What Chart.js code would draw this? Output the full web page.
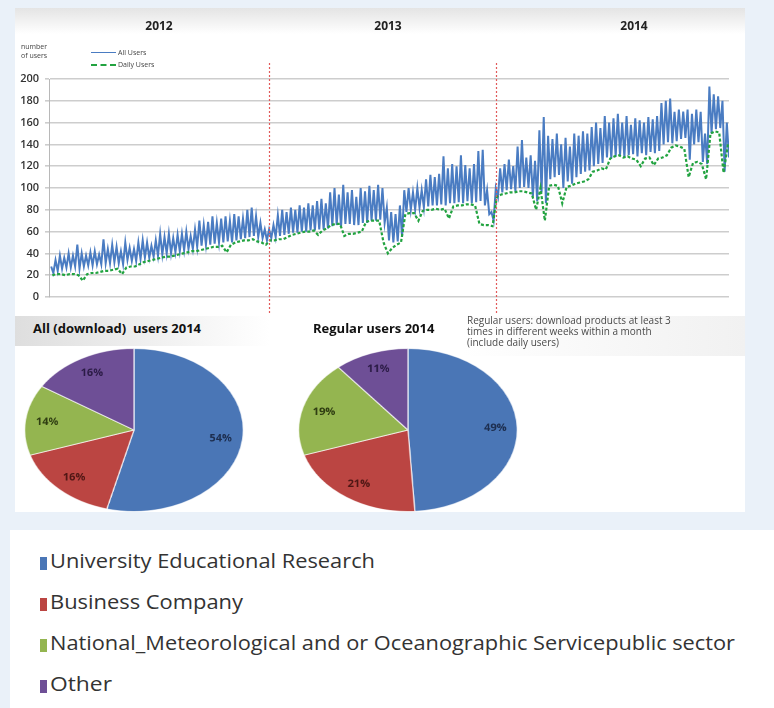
<!DOCTYPE html>
<html><head><meta charset="utf-8">
<script src="https://cdn.jsdelivr.net/npm/chart.js@4.4.1/dist/chart.umd.min.js"></script>
<style>
html,body{margin:0;padding:0;}
body{width:774px;height:708px;background:#eaf1f9;position:relative;overflow:hidden;font-family:'Open Sans',sans-serif;}
.abs{position:absolute;}
#topPanel{left:15px;top:8px;width:730px;height:504px;background:#fff;}
#topShade{left:15px;top:8px;width:730px;height:26px;background:linear-gradient(to bottom,#e4e4e4,rgba(255,255,255,0));}
#pieShade1{left:15px;top:316px;width:255px;height:30px;background:linear-gradient(to right,#dedede,rgba(255,255,255,0));}
#noteShade{left:462px;top:316px;width:283px;height:40px;background:linear-gradient(to right,rgba(255,255,255,0),#f1f1f1);}
#lineWrap{left:15px;top:8px;width:730px;height:310px;}
.year{font-weight:700;font-size:12px;color:#222;transform:translateX(-50%);top:17px;}
.small{font-size:7px;color:#444;line-height:9px;}
.pieWrap{top:348px;width:164px;height:164px;transform:scaleX(1.341);transform-origin:0 0;}
.pieTitle{font-weight:700;font-size:13px;color:#111;top:319px;white-space:pre;}
#note{left:467px;top:315px;font-size:10px;line-height:11px;color:#4a4a4a;}
#legendPanel{left:10px;top:530px;width:764px;height:178px;background:#fff;}
.lgRow{left:40px;height:20px;}
.lgBox{position:absolute;left:0;top:4px;width:7px;height:13px;}
.lgText{position:absolute;left:10px;top:-3px;font-size:20px;line-height:22px;color:#333;white-space:nowrap;transform-origin:0 50%;display:inline-block;}
</style></head>
<body>
<div id="topPanel" class="abs"></div>
<div id="topShade" class="abs"></div>
<div id="pieShade1" class="abs"></div>
<div id="noteShade" class="abs"></div>
<div id="lineWrap" class="abs"><canvas id="lineChart"></canvas></div>

<div class="abs year" style="left:159px">2012</div>
<div class="abs year" style="left:388px">2013</div>
<div class="abs year" style="left:634px">2014</div>
<div class="abs small" style="left:21px;top:42px">number<br>of users</div>
<div class="abs" style="left:91px;top:52px;width:25px;border-top:1.5px solid #4a7cc2"></div>
<div class="abs small" style="left:118px;top:48px">All Users</div>
<div class="abs" style="left:91px;top:64px;width:25px;border-top:2px dashed #22a340"></div>
<div class="abs small" style="left:118px;top:60px">Daily Users</div>

<div class="abs pieTitle" style="left:33px">All (download)  users 2014</div>
<div class="abs pieTitle" style="left:313px">Regular users 2014</div>
<div id="note" class="abs">Regular users: download products at least 3<br>times in different weeks within a month<br>(include daily users)</div>
<div class="abs pieWrap" style="left:24px"><canvas id="pieAll"></canvas></div>
<div class="abs pieWrap" style="left:298px"><canvas id="pieRegular"></canvas></div>

<div id="legendPanel" class="abs"></div>
<div id="legend"></div>

<script>
// ---------- Line chart data (weekly: weekday high / weekend low of All Users, and Daily Users) ----------
const firstWeek2012 = 2, firstWeek2013 = 52, firstWeek2014 = 104;
const yearBoundaryWeeks = [52, 104];
const yearLabels = ['2012', '2013', '2014'];

const allHigh2012 = [28,34,38,36,40,38,48,40,38,41,42,39,53,44,48,46,42,50,45,44,50,52,50,47,52,58,55,58,54,57,58,60,56,62,70,66,69,74,68,72,74,70,76,74,72,80,82,74,68,62];
const allLow2012  = [22,24,26,27,27,28,26,28,29,29,30,30,31,31,32,31,30,34,33,33,35,36,36,37,38,39,40,40,41,42,43,44,44,46,47,48,48,49,50,50,51,50,52,53,54,55,56,55,54,52];
const daily2012   = [20,21,21,20,21,21,20,15,21,22,22,23,24,24,25,26,21,27,28,28,30,32,33,34,35,36,37,37,38,39,40,41,42,42,43,44,45,46,46,47,41,48,50,51,52,52,53,51,50,48];

const allHigh2013 = [62,66,75,80,78,82,80,84,82,86,84,88,90,86,96,100,94,103,96,98,92,100,97,102,98,103,100,82,78,76,84,98,100,96,100,98,108,112,110,113,129,118,122,120,130,121,118,122,134,135,98,78];
const allLow2013  = [54,55,56,57,58,59,59,60,60,61,61,62,62,63,65,66,64,67,67,66,66,68,68,70,70,71,68,52,50,51,55,78,80,80,82,82,83,84,84,85,84,86,86,87,86,88,86,87,88,84,76,70];
const daily2013   = [52,52,53,53,55,57,58,59,60,60,61,57,61,63,66,67,67,56,58,58,59,60,69,70,70,70,50,40,45,48,50,76,77,77,70,79,80,80,81,80,81,72,83,84,84,85,85,84,67,66,66,65];

const allHigh2014 = [100,118,122,126,120,138,144,128,130,125,153,165,148,145,150,140,146,138,150,148,152,150,156,160,155,166,160,164,168,160,166,158,164,162,160,165,163,166,178,180,182,170,172,170,172,168,172,170,150,193,186,184,180,160];
const allLow2014  = [92,96,98,99,97,100,101,100,92,88,96,86,108,110,112,100,106,104,110,113,115,116,120,122,123,128,127,129,130,128,130,131,129,132,130,133,132,134,140,142,141,143,145,146,126,140,142,124,122,150,154,155,115,128];
const daily2014   = [92,94,95,96,96,97,97,96,95,80,100,70,102,103,102,86,101,102,104,105,106,108,115,116,118,117,127,129,130,128,129,127,126,120,127,128,121,127,128,130,137,139,138,136,110,123,124,122,108,150,152,151,114,140];

const yTicks = [0,20,40,60,80,100,120,140,160,180,200];

// ---------- Pie data ----------
const categories = ['University Educational Research','Business Company','National_Meteorological and or Oceanographic Servicepublic sector','Other'];
const allUsers2014 = [54,16,14,16];
const regularUsers2014 = [49,21,19,11];
const sliceColors = ['#4a76b6','#bb4542','#94b550','#6e4f96'];
const labelColors = ['#1d2e4f','#4e1614','#2f3d12','#2b1b45'];

function buildAll(first, highs, lows){
  const pts=[];
  highs.forEach((h,i)=>{ pts.push({x:first+i,y:h}); pts.push({x:first+i+0.5,y:lows[i]}); });
  return pts;
}
function buildDaily(first, vals){ return vals.map((v,i)=>({x:first+i+0.25,y:v})); }

const allPts = [].concat(buildAll(firstWeek2012,allHigh2012,allLow2012), buildAll(firstWeek2013,allHigh2013,allLow2013), buildAll(firstWeek2014,allHigh2014,allLow2014));
const dailyPts = [].concat(buildDaily(firstWeek2012,daily2012), buildDaily(firstWeek2013,daily2013), buildDaily(firstWeek2014,daily2014));

const dividerPlugin = {
  id:'dividers',
  afterDatasetsDraw(chart){
    const {ctx, chartArea, scales} = chart;
    ctx.save();
    ctx.strokeStyle = '#e25a5a'; ctx.lineWidth = 1.2; ctx.setLineDash([2,2]);
    yearBoundaryWeeks.forEach(w=>{
      const x = Math.round(scales.x.getPixelForValue(w))+0.5;
      ctx.beginPath(); ctx.moveTo(x, chartArea.top-16); ctx.lineTo(x, chartArea.bottom+18); ctx.stroke();
    });
    ctx.restore();
  }
};

new Chart(document.getElementById('lineChart'), {
  type:'line',
  data:{ datasets:[
    {label:'Daily Users', data:dailyPts, borderColor:'#22a340', borderWidth:2.2, borderDash:[3,2], pointRadius:0, tension:0, order:0},
    {label:'All Users', data:allPts, borderColor:'#4a7cc2', borderWidth:2, pointRadius:0, tension:0, order:1}
  ]},
  options:{
    responsive:true, maintainAspectRatio:false, animation:false,
    layout:{padding:{top:71,right:16,bottom:21,left:0}},
    plugins:{legend:{display:false}, tooltip:{enabled:false}},
    scales:{
      x:{type:'linear', min:1.5, max:157.5, display:false},
      y:{min:0, max:200,
        afterBuildTicks(s){ s.ticks = yTicks.map(v=>({value:v})); },
        afterFit(s){ s.width = 34; },
        grid:{color:'#cdcdcd', lineWidth:1.6, tickLength:4},
        border:{color:'#b8b8b8', width:1},
        ticks:{padding:6, color:'#333', font:{family:'Open Sans', size:11, weight:'600'}}
      }
    }
  },
  plugins:[dividerPlugin]
});

const pieLabelPlugin = {
  id:'pieLabels',
  afterDatasetsDraw(chart, args, opts){
    const ctx = chart.ctx;
    const meta = chart.getDatasetMeta(0);
    const data = chart.data.datasets[0].data;
    meta.data.forEach((arc,i)=>{
      const p = arc.getProps(['x','y','startAngle','endAngle','outerRadius'], true);
      const mid = (p.startAngle+p.endAngle)/2;
      const r = p.outerRadius*opts.radiusFactor;
      ctx.save();
      ctx.translate(p.x+Math.cos(mid)*r, p.y+Math.sin(mid)*r);
      ctx.scale(1/opts.stretch, 1);
      ctx.font = 'bold 11px "Open Sans"';
      ctx.fillStyle = labelColors[i];
      ctx.textAlign='center'; ctx.textBaseline='middle';
      ctx.fillText(data[i]+'%', 0, 0);
      ctx.restore();
    });
  }
};

function makePie(id, values){
  new Chart(document.getElementById(id), {
    type:'pie',
    data:{labels:categories, datasets:[{data:values, backgroundColor:sliceColors, borderColor:'rgba(255,255,255,0.7)', borderWidth:1}]},
    options:{responsive:true, maintainAspectRatio:false, animation:false, devicePixelRatio:2,
      layout:{padding:0},
      plugins:{legend:{display:false}, tooltip:{enabled:false}, pieLabels:{radiusFactor:0.8, stretch:1.341}}},
    plugins:[pieLabelPlugin]
  });
}
makePie('pieAll', allUsers2014);
makePie('pieRegular', regularUsers2014);

// ---------- Bottom legend ----------
const legendTargetWidths = [325, 193, 685, 62];
const legendBaselines = [563, 604, 645, 686];
const lg = document.getElementById('legend');
categories.forEach((c,i)=>{
  const row = document.createElement('div');
  row.className='abs lgRow';
  row.style.top = (legendBaselines[i]-10)+'px';
  row.innerHTML = '<div class="lgBox" style="background:'+sliceColors[i]+'"></div><span class="lgText">'+c+'</span>';
  lg.appendChild(row);
  const t = row.querySelector('.lgText');
  const w = t.getBoundingClientRect().width;
  t.style.transform = 'scaleX('+(legendTargetWidths[i]/w)+')';
});
</script>
</body></html>
